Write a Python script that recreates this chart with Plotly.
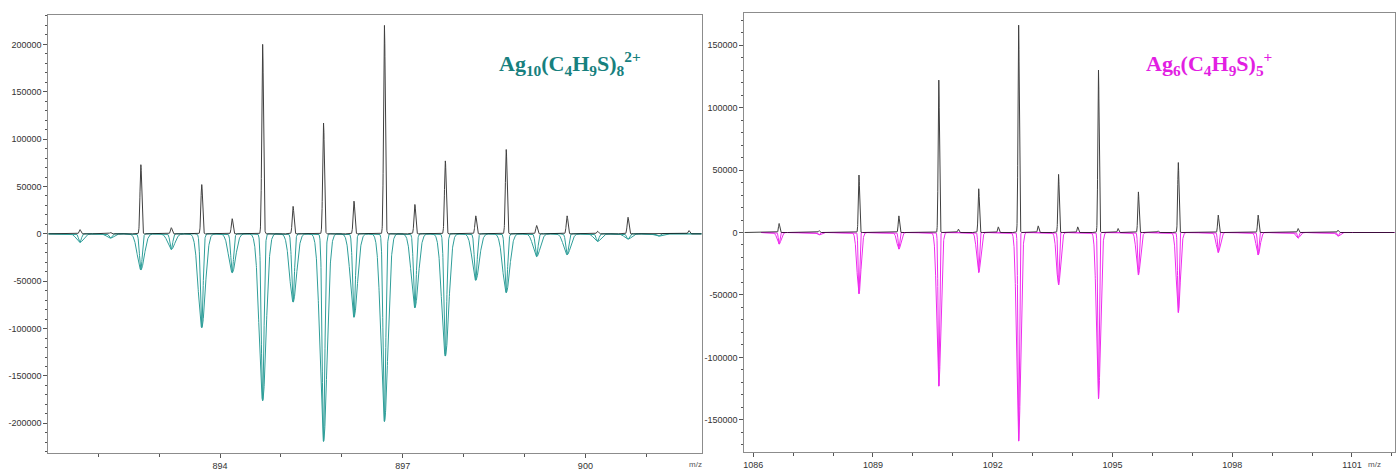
import numpy as np
import plotly.graph_objects as go

# ---------------- Ag10(C4H9S)8 2+ (doubly charged, 0.5 m/z spacing) ----------------
ag10_mz = [891.70, 892.20, 892.70, 893.20, 893.70, 894.20, 894.70, 895.20, 895.70,
           896.20, 896.70, 897.20, 897.70, 898.20, 898.70, 899.20, 899.70, 900.20,
           900.70, 901.20, 901.70]
ag10_exp = [4500, 1500, 73000, 6500, 52000, 16000, 200000, 29000, 117000,
            34500, 220000, 31000, 77000, 19000, 89000, 8800, 19000, 2800,
            17500, 600, 3500]
ag10_sim = [-9000, -4600, -38000, -16500, -99000, -41000, -176000, -72000, -219000,
            -88000, -198000, -78000, -129000, -49000, -62000, -24000, -22000, -8000,
            -5600, -2500, -500]

# ---------------- Ag6(C4H9S)5 + (singly charged) ----------------
ag6_exp_mz = [1086.65, 1087.65, 1088.65, 1089.65, 1090.65, 1091.14, 1091.65, 1092.14,
              1092.65, 1093.14, 1093.65, 1094.13, 1094.65, 1095.14, 1095.65, 1096.14,
              1096.65, 1097.14, 1097.65, 1098.65, 1099.65, 1100.65, 1101.65]
ag6_exp = [7200, 1500, 46000, 13300, 122000, 2700, 35000, 4500,
           166000, 5300, 46500, 4500, 130000, 3200, 32500, 1300,
           56000, 500, 13900, 13900, 3200, 1900, 500]
ag6_sim_mz = [1086.65, 1087.65, 1088.65, 1089.65, 1090.65, 1091.65, 1092.65, 1093.65,
              1094.65, 1095.65, 1096.65, 1097.65, 1098.65, 1099.65, 1100.65, 1101.65]
ag6_sim = [-9300, -2000, -49000, -13300, -123000, -32000, -167000, -42000,
           -133000, -34000, -64000, -16000, -18000, -4500, -3000, -500]

# axis ranges and tick labels
left_xrange = [891.18, 901.91]
right_xrange = [1085.78, 1102.07]
left_yrange = [-231000, 231000]
right_yrange = [-175500, 175500]
left_yticks = [200000, 150000, 100000, 50000, 0, -50000, -100000, -150000, -200000]
right_yticks = [150000, 100000, 50000, 0, -50000, -100000, -150000]
left_xticks = [894, 897, 900]
right_xticks = [1086, 1089, 1092, 1095, 1098, 1101]

TEAL = "#2f9e99"
TEAL_TITLE = "#17807e"
MAGENTA = "#ee2cee"
MAGENTA_TITLE = "#e21ee2"


def profile(x, centers, heights, sigma):
    """Sum of Gaussian peak shapes evaluated on grid x."""
    x = np.asarray(x)
    y = np.zeros_like(x)
    for c, h in zip(centers, heights):
        y += h * np.exp(-0.5 * ((x - c) / sigma) ** 2)
    return y


fig = go.Figure()

# left panel: simulated envelope (broad + narrow profile), then measured spectrum
xl = np.arange(left_xrange[0], left_xrange[1], 0.002)
fig.add_trace(go.Scatter(x=xl, y=profile(xl, ag10_mz, ag10_sim, 0.057), mode="lines",
                         line=dict(color=TEAL, width=1), xaxis="x", yaxis="y",
                         hoverinfo="skip"))
fig.add_trace(go.Scatter(x=xl, y=profile(xl, ag10_mz, ag10_sim, 0.022), mode="lines",
                         line=dict(color=TEAL, width=1), xaxis="x", yaxis="y",
                         hoverinfo="skip"))
fig.add_trace(go.Scatter(x=xl, y=profile(xl, ag10_mz, ag10_exp, 0.014), mode="lines",
                         line=dict(color="black", width=1), opacity=0.75,
                         xaxis="x", yaxis="y", hoverinfo="skip"))

# right panel
xr_exp = np.arange(right_xrange[0], right_xrange[1], 0.002)
xr_sim = np.arange(1086.2, right_xrange[1], 0.002)
fig.add_trace(go.Scatter(x=xr_sim, y=profile(xr_sim, ag6_sim_mz, ag6_sim, 0.05), mode="lines",
                         line=dict(color=MAGENTA, width=1), xaxis="x2", yaxis="y2",
                         hoverinfo="skip"))
fig.add_trace(go.Scatter(x=xr_sim, y=profile(xr_sim, ag6_sim_mz, ag6_sim, 0.018), mode="lines",
                         line=dict(color=MAGENTA, width=1), xaxis="x2", yaxis="y2",
                         hoverinfo="skip"))
fig.add_trace(go.Scatter(x=xr_exp, y=profile(xr_exp, ag6_exp_mz, ag6_exp, 0.016), mode="lines",
                         line=dict(color="black", width=1), opacity=0.75,
                         xaxis="x2", yaxis="y2", hoverinfo="skip"))

W, H = 1396, 475
tick_font = dict(family="Liberation Sans, Arial, sans-serif", size=9, color="#333333")
axis_common = dict(showline=True, linecolor="#8c8c8c", linewidth=1, mirror=True,
                   showgrid=False, zeroline=False, ticks="outside", ticklen=4,
                   tickcolor="#555555", tickfont=tick_font, automargin=False)

fig.update_layout(
    width=W, height=H, margin=dict(l=0, r=0, t=0, b=0),
    paper_bgcolor="white", plot_bgcolor="white", showlegend=False,
    xaxis=dict(domain=[48.3 / W, 701.7 / W], range=left_xrange, anchor="y",
               tickmode="array", tickvals=left_xticks, ticktext=[str(v) for v in left_xticks],
               minor=dict(dtick=1, tick0=891, ticks="outside", ticklen=3, tickcolor="#555555"),
               **axis_common),
    yaxis=dict(domain=[1 - 452.7 / H, 1 - 15 / H], range=left_yrange, anchor="x",
               tickmode="array", tickvals=left_yticks, ticktext=[str(v) for v in left_yticks],
               minor=dict(dtick=10000, tick0=0, ticks="outside", ticklen=2, tickcolor="#555555"),
               **axis_common),
    xaxis2=dict(domain=[744.4 / W, 1394.7 / W], range=right_xrange, anchor="y2",
                tickmode="array", tickvals=right_xticks, ticktext=[str(v) for v in right_xticks],
                minor=dict(dtick=1, tick0=1086, ticks="outside", ticklen=3, tickcolor="#555555"),
                **axis_common),
    yaxis2=dict(domain=[1 - 451.7 / H, 1 - 13.3 / H], range=right_yrange, anchor="x2",
                tickmode="array", tickvals=right_yticks, ticktext=[str(v) for v in right_yticks],
                minor=dict(dtick=10000, tick0=0, ticks="outside", ticklen=2, tickcolor="#555555"),
                **axis_common),
)

title_font = dict(family="Liberation Serif, Times New Roman, serif", size=22)
fig.add_annotation(x=570 / W, y=1 - 46 / H, xref="paper", yref="paper", showarrow=False,
                   text="<b>Ag<sub>10</sub>(C<sub>4</sub>H<sub>9</sub>S)<sub>8</sub><sup>2+</sup></b>",
                   font=dict(color=TEAL_TITLE, **title_font))
fig.add_annotation(x=1274 / W, y=1 - 46 / H, xref="paper", yref="paper", showarrow=False,
                   text="<b>Ag<sub>6</sub>(C<sub>4</sub>H<sub>9</sub>S)<sub>5</sub><sup>+</sup></b>",
                   font=dict(color=MAGENTA_TITLE, **title_font))

mz_font = dict(family="Liberation Sans, Arial, sans-serif", size=8, color="#555555")
fig.add_annotation(x=695 / W, y=1 - 471 / H, xref="paper", yref="paper", showarrow=False,
                   text="m/z", font=mz_font)
fig.add_annotation(x=1383 / W, y=1 - 471 / H, xref="paper", yref="paper", showarrow=False,
                   text="m/z", font=mz_font)

fig.write_html("out.html")
